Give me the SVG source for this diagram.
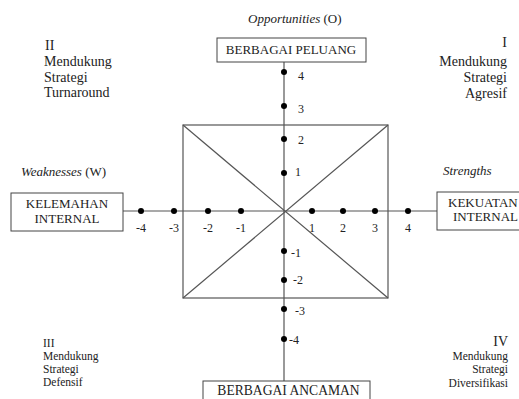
<svg xmlns="http://www.w3.org/2000/svg" width="519" height="399" viewBox="0 0 519 399">
<style>
text{font-family:'Liberation Serif','Times New Roman','DejaVu Serif',serif;fill:#222}
.box{fill:#fff;stroke:#444;stroke-width:1}
.ax{stroke:#555;stroke-width:1.2;fill:none}
.dot{fill:#000}
.t13{font-size:13px}
.t14{font-size:14px}
.t11{font-size:11.5px}
.num{font-size:12px}
.c{text-anchor:middle}
.r{text-anchor:end}
.i{font-style:italic}
</style>
<rect width="519" height="399" fill="#fff"/>
<g id="connectors">
<line class="ax" x1="284" y1="62" x2="284" y2="381"/>
<line class="ax" x1="123" y1="211" x2="437" y2="211"/>
<rect class="ax" x="183" y="125" width="205" height="173"/>
<line class="ax" x1="183" y1="125" x2="388" y2="298"/>
<line class="ax" x1="388" y1="125" x2="183" y2="298"/>
</g>
<g id="ticks">
<circle class="dot" cx="284" cy="72" r="3"/>
<circle class="dot" cx="284" cy="106" r="3"/>
<circle class="dot" cx="284" cy="139" r="3"/>
<circle class="dot" cx="284" cy="173" r="3"/>
<circle class="dot" cx="284" cy="251" r="3"/>
<circle class="dot" cx="284" cy="280" r="3"/>
<circle class="dot" cx="284" cy="309" r="3"/>
<circle class="dot" cx="284" cy="339" r="3"/>
<circle class="dot" cx="141" cy="211" r="3"/>
<circle class="dot" cx="174" cy="211" r="3"/>
<circle class="dot" cx="208" cy="211" r="3"/>
<circle class="dot" cx="241" cy="211" r="3"/>
<circle class="dot" cx="312" cy="211" r="3"/>
<circle class="dot" cx="343" cy="211" r="3"/>
<circle class="dot" cx="375" cy="211" r="3"/>
<circle class="dot" cx="408" cy="211" r="3"/>
<text class="num" x="298" y="80">4</text>
<text class="num" x="298" y="113">3</text>
<text class="num" x="298" y="144">2</text>
<text class="num" x="295" y="176">1</text>
<text class="num" x="291" y="257">-1</text>
<text class="num" x="293" y="284">-2</text>
<text class="num" x="295" y="315">-3</text>
<text class="num" x="289" y="344">-4</text>
<text class="num c" x="141" y="232">-4</text>
<text class="num c" x="174" y="232">-3</text>
<text class="num c" x="208" y="232">-2</text>
<text class="num c" x="241" y="232">-1</text>
<text class="num c" x="312" y="232">1</text>
<text class="num c" x="343" y="232">2</text>
<text class="num c" x="375" y="232">3</text>
<text class="num c" x="408" y="232">4</text>
</g>
<g id="opportunities">
<text class="t13" x="248" y="23"><tspan class="i">Opportunities</tspan> (O)</text>
<rect class="box" x="217" y="38" width="149" height="24"/>
<text class="t13 c" x="291" y="54">BERBAGAI PELUANG</text>
</g>
<g id="threats">
<rect class="box" x="203" y="381" width="167" height="30"/>
<text class="c" style="font-size:13.6px" x="288.5" y="395">BERBAGAI ANCAMAN</text>
</g>
<g id="weaknesses">
<text class="t13" x="21" y="176"><tspan class="i">Weaknesses</tspan> (W)</text>
<rect class="box" x="11" y="193" width="112" height="38"/>
<text class="t13 c" x="67" y="207.5">KELEMAHAN</text>
<text class="t13 c" x="67" y="222.5">INTERNAL</text>
</g>
<g id="strengths">
<text class="t13 i" x="443" y="175">Strengths</text>
<rect class="box" x="437" y="192" width="100" height="38"/>
<text class="t13" x="448" y="207">KEKUATAN</text>
<text class="t13" x="453" y="221">INTERNAL</text>
</g>
<g id="quadrant-2">
<text class="t14" x="45" y="50">II</text>
<text class="t14" x="44" y="66">Mendukung</text>
<text class="t14" x="44" y="81.5">Strategi</text>
<text class="t14" x="44" y="97">Turnaround</text>
</g>
<g id="quadrant-1">
<text class="t14 r" x="507" y="47">I</text>
<text class="t14 r" x="507" y="66">Mendukung</text>
<text class="t14 r" x="507" y="82">Strategi</text>
<text class="t14 r" x="507" y="97.5">Agresif</text>
</g>
<g id="quadrant-3">
<text class="t11" x="43" y="347">III</text>
<text class="t11" x="43" y="360">Mendukung</text>
<text class="t11" x="43" y="373">Strategi</text>
<text class="t11" x="43" y="386">Defensif</text>
</g>
<g id="quadrant-4">
<text class="t14 r" x="508" y="346">IV</text>
<text class="t11 r" x="508" y="359.5">Mendukung</text>
<text class="t11 r" x="508" y="373">Strategi</text>
<text class="t11 r" x="508" y="386.5">Diversifikasi</text>
</g>
</svg>
